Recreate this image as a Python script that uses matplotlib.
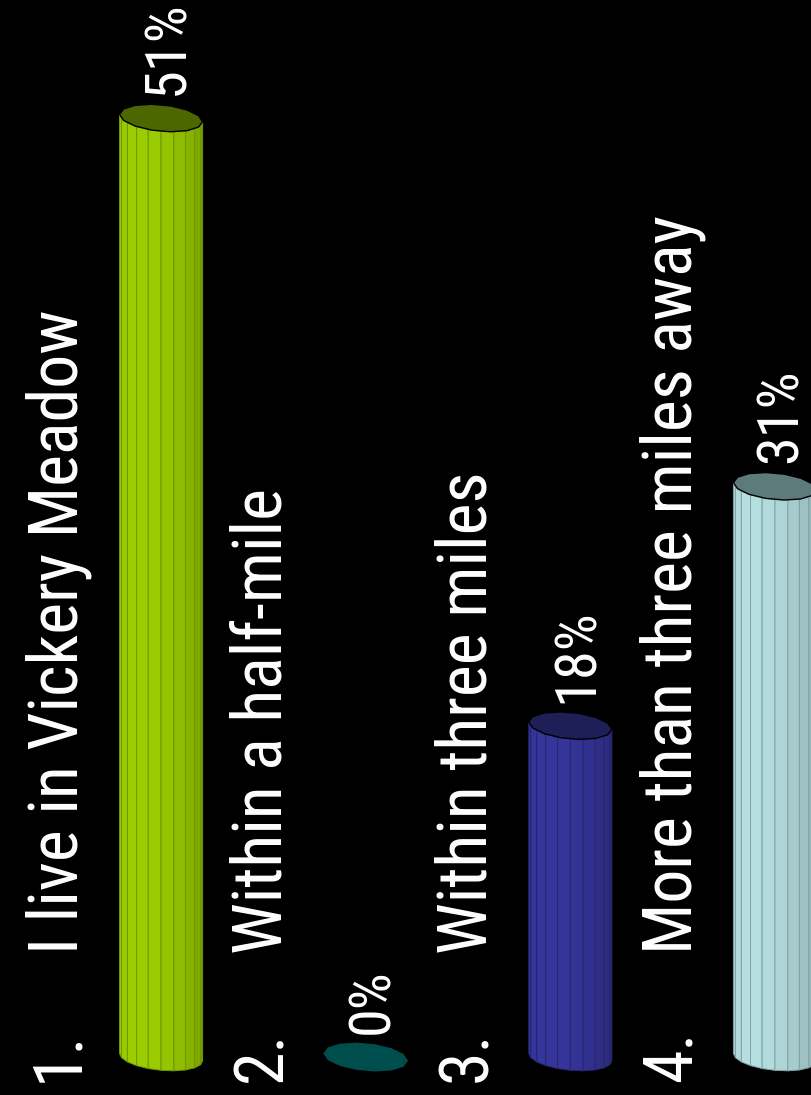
import numpy as np
import matplotlib
matplotlib.use('Agg')
import matplotlib.pyplot as plt
from matplotlib.colors import to_rgb

# datos
numeros = ['1.', '2.', '3.', '4.']
etiquetas = ['I live in Vickery Meadow', 'Within a half-mile',
             'Within three miles', 'More than three miles away']
valores = [51, 0, 18, 31]
colores = ['#98ca00', '#006060', '#343499', '#b2dadc']
tapas = ['#4c6600', '#004d4d', '#1f1f58', '#5e7b7c']

fig = plt.figure(figsize=(8.12, 10.95), dpi=100, facecolor='black')
ax = fig.add_axes([0, 0, 1, 1])
ax.set_facecolor('black')
ax.set_xlim(-0.787, 3.181)
ax.set_ylim(-2.06, 57.41)
ax.axis('off')

fuente = ['Liberation Sans Narrow', 'Roboto Condensed', 'DejaVu Sans']

a = 0.203   # semieje x del cilindro
b = 0.72    # semieje y (perspectiva)
s = 0.20    # inclinacion de la elipse
n_caras = 10


def elipse(cx, cy, t):
    return cx + a * np.cos(t), cy + b * np.sin(t) - s * np.cos(t)


def cilindro(cx, h, color, tapa):
    base = np.array(to_rgb(color))
    if h > 0:
        # caras frontales (parte inferior de la elipse)
        ts = np.linspace(np.pi, 2 * np.pi, n_caras + 1)
        for k in range(n_caras):
            t0, t1 = ts[k], ts[k + 1]
            x0, y0 = elipse(cx, 0, t0)
            x1, y1 = elipse(cx, 0, t1)
            tm = 0.5 * (t0 + t1)
            # luz desde la izquierda
            luz = 0.86 + 0.16 * np.cos(tm - 1.3 * np.pi)
            c = np.clip(base * luz, 0, 1)
            ax.fill([x0, x1, x1, x0], [y0, y1, y1 + h, y0 + h],
                    color=c, ec=np.clip(base * 0.75, 0, 1), lw=0.7, zorder=2)
    t = np.linspace(0, 2 * np.pi, n_caras + 5)
    xe, ye = elipse(cx, h, t)
    ax.fill(xe, ye, color=tapa, ec='black' if h > 0 else tapa, lw=1.0, zorder=3)


for i, (v, col, tp) in enumerate(zip(valores, colores, tapas)):
    cilindro(i, v, col, tp)
    ax.text(i + 0.108, v + 1.25, f'{v}%', rotation=90, rotation_mode='anchor',
            ha='left', va='baseline', color='white', fontsize=42,
            family=fuente, fontstretch='condensed', zorder=4)
    ax.text(i - 0.41, -1.36, numeros[i], rotation=90, rotation_mode='anchor',
            ha='left', va='baseline', color='white', fontsize=49,
            family=fuente, fontstretch='condensed', zorder=4)
    ax.text(i - 0.41, 5.6, etiquetas[i], rotation=90, rotation_mode='anchor',
            ha='left', va='baseline', color='white', fontsize=49,
            family=fuente, fontstretch='condensed', zorder=4)

fig.savefig('out.png', dpi=100, facecolor='black')
